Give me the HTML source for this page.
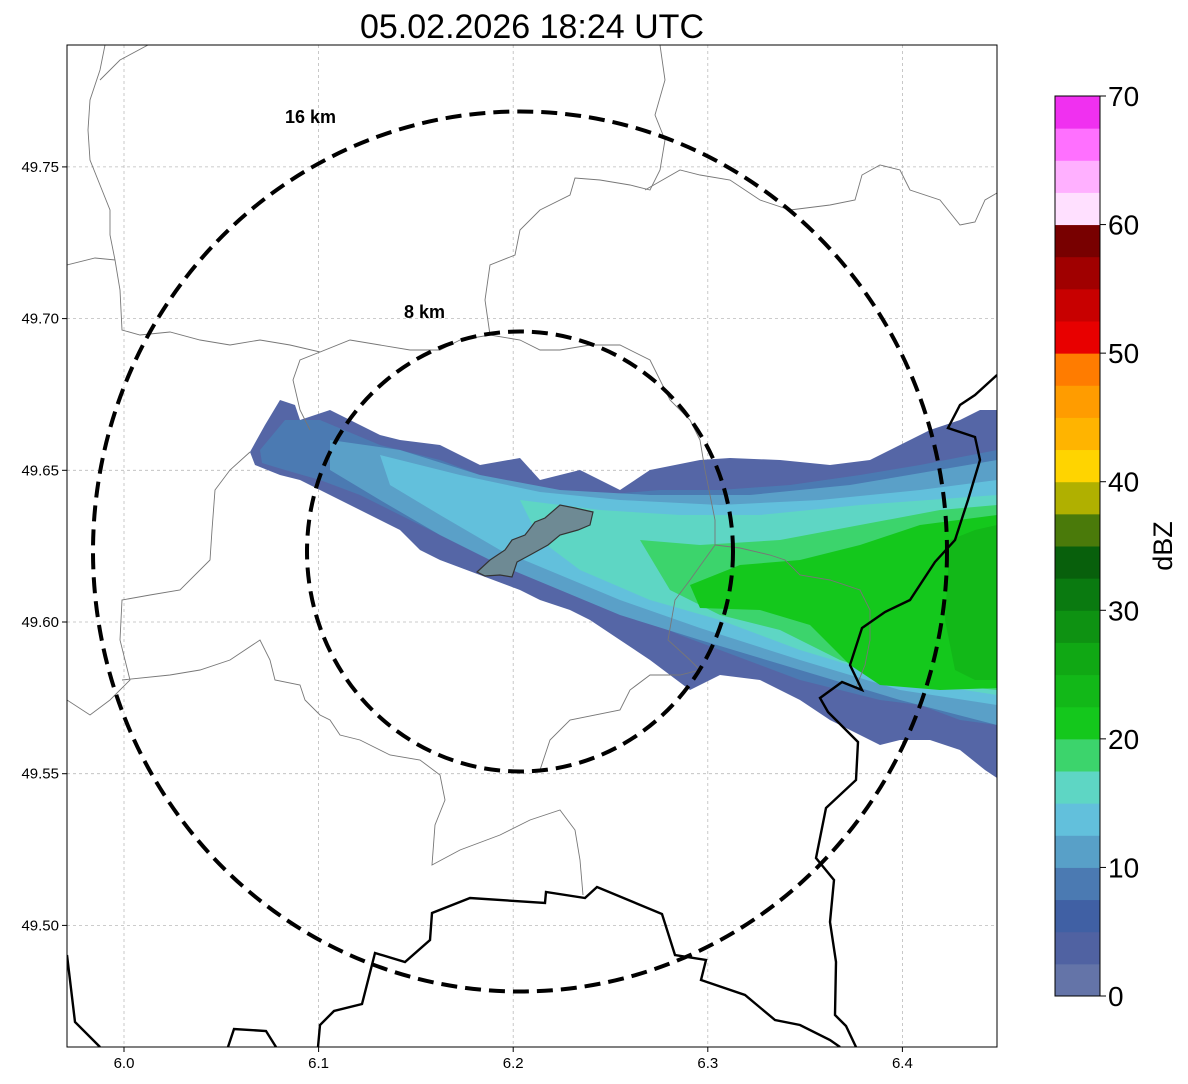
<!DOCTYPE html>
<html><head><meta charset="utf-8"><style>
body{margin:0;background:#fff;}
svg{display:block;font-family:"Liberation Sans",sans-serif;}
</style></head><body>
<svg width="1188" height="1084" viewBox="0 0 1188 1084">
<text x="532" y="38" text-anchor="middle" font-size="34">05.02.2026 18:24 UTC</text>
<defs><clipPath id="clip"><rect x="67" y="45" width="930" height="1002"/></clipPath></defs>
<g id="grid"></g>
<g clip-path="url(#clip)">
<g>
<polygon fill="#5566a6" points="250,452 265,425 280,400 295,405 300,420 330,410 350,420 380,435 400,440 440,445 480,465 520,458 540,480 580,470 620,490 650,470 700,460 730,458 780,460 830,465 870,460 900,445 930,430 960,420 980,410 997,410 997,778 985,770 960,750 930,740 900,740 880,745 860,735 830,720 800,700 760,680 720,675 690,690 650,660 620,640 590,620 570,610 540,600 520,590 480,575 440,560 420,550 400,530 380,520 360,510 330,495 300,480 280,475 255,465"/>
<polygon fill="#4b7ab2" points="260,450 285,420 320,420 380,445 440,460 480,475 540,490 600,495 660,490 720,490 790,485 860,475 920,465 997,450 997,725 960,720 920,705 880,700 840,690 800,680 760,665 720,650 680,635 640,618 600,600 560,585 520,570 480,555 440,535 400,515 360,495 320,480 285,470 262,463"/>
<polygon fill="#5aa0c8" points="330,440 400,450 480,475 560,490 650,495 750,495 850,485 997,460 997,725 900,700 800,670 700,640 620,615 560,590 500,565 440,535 380,500 330,470"/>
<polygon fill="#62c0dc" points="380,455 460,475 540,492 620,500 720,505 820,500 920,490 997,480 997,705 900,690 800,660 700,628 620,600 560,575 500,550 440,515 390,485"/>
<polygon fill="#5ed6c4" points="520,500 600,510 680,515 760,515 860,505 997,495 997,695 900,680 800,650 720,620 650,600 580,570 540,540"/>
<polygon fill="#3cd46c" points="640,540 700,545 780,540 860,525 940,510 997,505 997,690 900,680 840,660 780,630 720,615 670,590"/>
<polygon fill="#14c81c" points="690,585 740,565 800,560 860,545 920,525 997,515 997,688 940,690 880,685 850,665 810,625 760,610 700,608"/>
<polygon fill="#12b818" points="950,540 975,530 997,525 997,680 975,680 955,670 945,620"/>
</g>
<polygon fill="#6e8a94" stroke="#333" stroke-width="1.2" points="477,572 490,560 505,550 512,540 525,535 535,522 545,518 560,505 575,508 593,512 590,525 578,530 560,535 548,545 530,555 517,562 512,577 500,575 485,576"/>
<g fill="none" stroke="#777" stroke-width="0.9">
<polyline points="105,45 100,70 90,100 88,130 90,160 100,185 110,210 110,235 115,260 95,258 67,265"/>
<polyline points="148,45 120,60 100,80"/>
<polyline points="115,260 120,290 122,330 140,335 170,332 200,340 230,345 260,340 290,345 320,352 350,340 380,345 410,350 440,350 460,340 490,335 520,340 540,350 560,350 590,345 620,345 650,360 660,380 670,400 690,420 700,440 705,470"/>
<polyline points="320,352 300,360 293,380 300,410 310,430"/>
<polyline points="490,335 485,300 490,265 515,255 520,230 540,210 570,195 575,178 600,180 630,185 650,190 660,170 665,140 655,115 665,80 660,45"/>
<polyline points="645,190 680,170 700,175 730,180 760,200 790,210 830,205 855,200 862,175 880,165 900,170 910,190 940,200 960,225 975,222 985,200 997,193"/>
<polyline points="705,470 715,520 715,545 690,580 675,600 668,640 690,660 700,670"/>
<polyline points="715,545 740,548 770,555 785,560 800,575 830,580 860,590 870,610 870,640 865,665 855,690"/>
<polyline points="250,452 230,470 215,490 212,530 210,560 180,590 150,595 122,600 120,640 130,680 110,700 90,715 67,700"/>
<polyline points="122,680 170,675 200,670 230,660 260,640 270,660 275,680 300,685 305,700 320,715 330,720 340,735 360,740 390,755 420,760 440,775 445,800 435,825 432,865 460,850 500,835 530,820 560,810 575,830 580,860 583,895"/>
<polyline points="700,670 680,675 650,675 630,690 620,710 570,720 550,740 540,770"/>
</g>
<g fill="none" stroke="#000" stroke-width="2.4">
<polyline points="997,375 975,395 960,405 948,428 975,437 980,460 968,500 955,540 935,562 910,600 885,612 862,628 850,665 862,690 842,682 820,698 828,712 858,742 856,780 826,808 816,858 834,880 830,922 836,962 835,1015 846,1026 856,1047"/>
<polyline points="67,955 75,1022 100,1047"/>
<polyline points="228,1047 234,1029 266,1031 276,1047"/>
<polyline points="318,1047 320,1025 334,1011 362,1004 375,953 405,962 430,940 432,913 470,898 545,903 546,892 585,898 597,887 662,914 675,955 706,960 701,980 745,995 775,1020 800,1025 830,1040 840,1047"/>
</g>
<ellipse cx="520" cy="551.5" rx="213" ry="220" fill="none" stroke="#000" stroke-width="4" stroke-dasharray="16,8"/>
<ellipse cx="520" cy="551.5" rx="427" ry="440" fill="none" stroke="#000" stroke-width="4" stroke-dasharray="16,8"/>
</g>
<text x="285" y="123" font-size="18" font-weight="bold">16 km</text>
<text x="404" y="318" font-size="18" font-weight="bold">8 km</text>
<rect x="67" y="45" width="930" height="1002" fill="none" stroke="#000" stroke-width="1"/>
<g id="axes"></g>
<g id="cbar"></g>
<text transform="translate(1172,546) rotate(-90)" text-anchor="middle" font-size="27">dBZ</text>
</svg>
<script>
const lonTicks = [6.0, 6.1, 6.2, 6.3, 6.4];
const latTicks = [49.75, 49.70, 49.65, 49.60, 49.55, 49.50];
const cbarTicks = [0, 10, 20, 30, 40, 50, 60, 70];
const cbarColors = ["#6474a8","#5062a2","#4060a4","#4b7ab2","#58a0c8","#62c0dc","#5ed6c4","#3cd46c","#14c81c","#12b818","#10a814","#0e9212","#0a7a10","#08600c","#4a7a0a","#b0b000","#ffd400","#ffb400","#ff9c00","#ff7c00","#e80000","#c80000","#a00000","#780000","#ffe0ff","#ffb0ff","#ff70ff","#f030f0"];
const NS="http://www.w3.org/2000/svg";
const xOf = lon => 124 + (lon-6.0)*1946;
const yOf = lat => 622 - (lat-49.60)*3034;
const cY = v => 996 - v/70*900;
function mk(tag, attrs, parent){const e=document.createElementNS(NS,tag);for(const k in attrs)e.setAttribute(k,attrs[k]);parent.appendChild(e);return e;}
const grid=document.getElementById('grid'), axes=document.getElementById('axes'), cbar=document.getElementById('cbar');
lonTicks.forEach(t=>{
  const x=xOf(t);
  const l=mk('line',{x1:x,x2:x,y1:45,y2:1047,stroke:'#bbb','stroke-width':0.8,'stroke-dasharray':'3,3'},grid);
  
  
  const tk=mk('line',{x1:x,x2:x,y1:1047,y2:1052,stroke:'#000'},axes);
  
  
  const tx=mk('text',{x:x,y:1068,'text-anchor':'middle','font-size':15},axes);
  tx.textContent=t.toFixed(1);
  
  
});
latTicks.forEach(t=>{
  const y=yOf(t);
  const l=mk('line',{x1:67,x2:997,y1:y,y2:y,stroke:'#bbb','stroke-width':0.8,'stroke-dasharray':'3,3'},grid);
  
  
  const tk=mk('line',{x1:62,x2:67,y1:y,y2:y,stroke:'#000'},axes);
  
  
  const tx=mk('text',{x:59,y:y+5,'text-anchor':'end','font-size':15},axes);
  tx.textContent=t.toFixed(2);
  
  
});
const step=70/cbarColors.length;
cbarColors.forEach((c,i)=>{
  const y1=cY((i+1)*step), y0=cY(i*step);
  const r=mk('rect',{x:1055,y:y1,width:45,height:y0-y1+0.5,fill:c},cbar);
  
  
});
const fr=mk('rect',{x:1055,y:96,width:45,height:900,fill:'none',stroke:'#000'},cbar);


cbarTicks.forEach(v=>{
  const y=cY(v);
  const tk=mk('line',{x1:1100,x2:1106,y1:y,y2:y,stroke:'#000'},cbar);
  
  
  const tx=mk('text',{x:1108,y:y+10,'font-size':28},cbar);
  tx.textContent=v;
  
  
});
</script>
</body></html>
